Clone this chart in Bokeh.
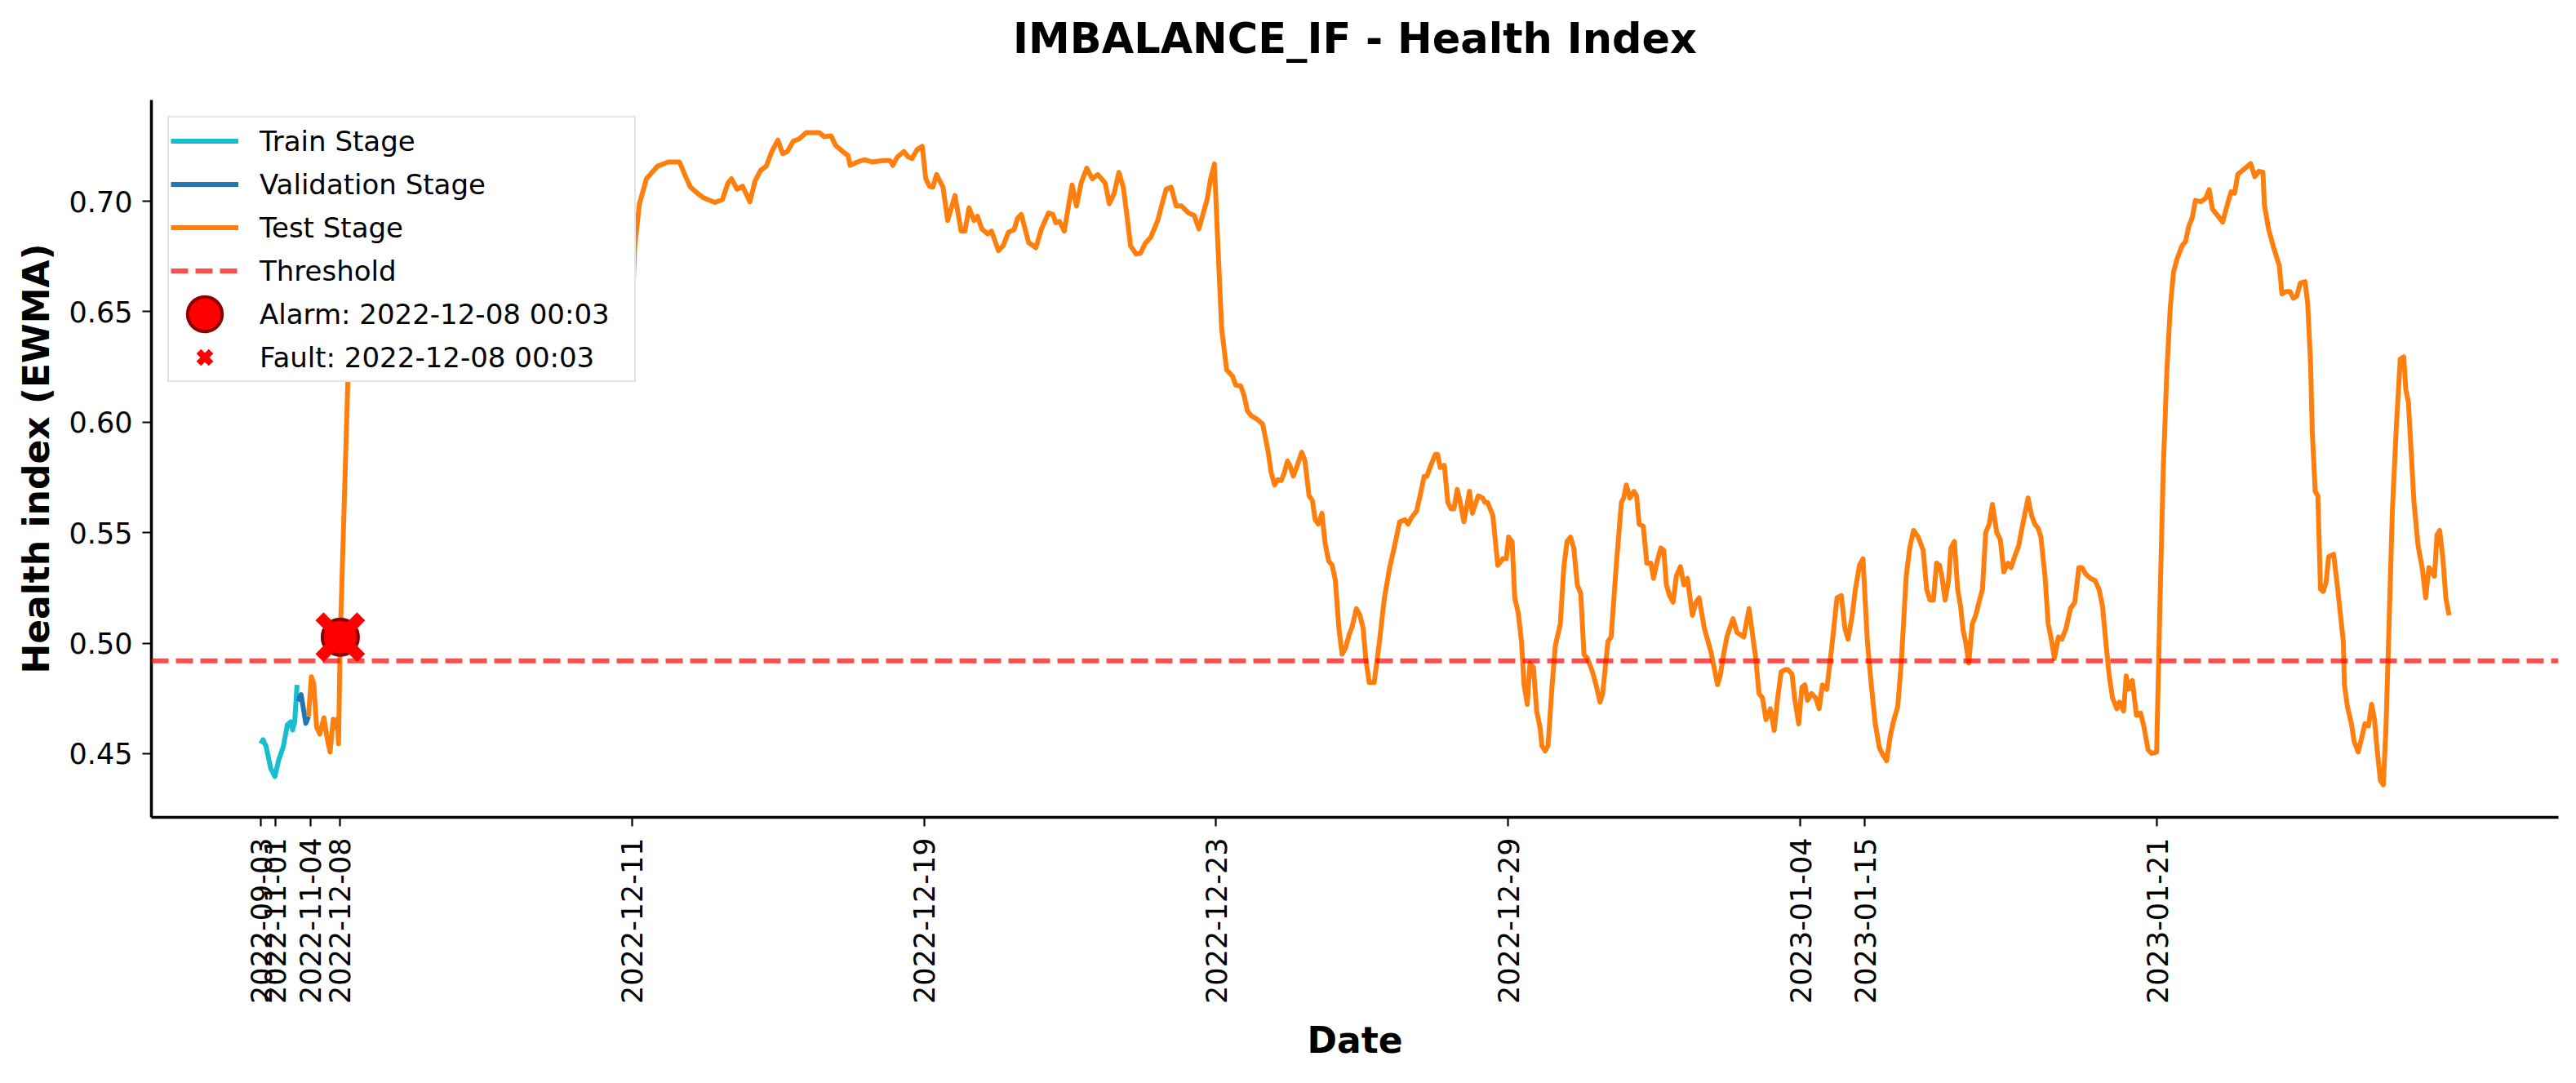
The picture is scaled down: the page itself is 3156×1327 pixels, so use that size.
import math
from bokeh.plotting import figure
from bokeh.models import Range1d, FixedTicker, Span, Legend, LegendItem, ColumnDataSource, Title
from bokeh.embed import file_html
from bokeh.resources import INLINE

# ---------------- data ----------------
title_text = "IMBALANCE_IF - Health Index"
threshold = 0.492
alarm_x = [27.2]
alarm_y = [0.5027]
alarm_label = "Alarm: 2022-12-08 00:03"
fault_label = "Fault: 2022-12-08 00:03"

tick_positions = [0, 5, 17, 27, 127, 227, 327, 427, 527, 549, 649]
tick_labels = ["2022-09-03", "2022-11-01", "2022-11-04", "2022-12-08", "2022-12-11",
               "2022-12-19", "2022-12-23", "2022-12-29", "2023-01-04", "2023-01-15",
               "2023-01-21"]
y_ticks = [0.45, 0.50, 0.55, 0.60, 0.65, 0.70]

train_x = [0, 0.75, 1.8, 3.4, 4.8, 6.1, 7.7, 9.1, 10.2, 10.9, 11.6, 12.4]
train_y = [0.4545, 0.4563, 0.4532, 0.4433, 0.4396, 0.4470, 0.4532, 0.4631, 0.4644, 0.4607, 0.4644, 0.4811]

val_x = [12.7, 13.8, 14.7, 15.4, 16.3]
val_y = [0.4737, 0.4767, 0.4693, 0.4637, 0.4668]

test_x = [
    16.3, 17.3, 18.1, 19.1, 20.2, 21.6, 22.7, 23.7, 24.8, 25.6,
    26.2, 26.6, 27.2, 29.8, 30.6, 126.6, 127.0, 128.0, 129.6, 132.0, 135.8,
    139.5, 143.3, 145.1, 147.0, 149.5, 151.4, 153.0, 155.5, 158.0, 159.9,
    161.1, 163.0, 164.9, 167.4, 169.2, 171.1, 173.0, 174.9, 177.0, 178.6,
    180.2, 182.3, 184.2, 186.7, 191.1, 192.9, 195.2, 196.7, 199.2, 201.0,
    201.7, 204.2, 206.6, 209.2, 212.9, 215.4, 216.3, 217.9, 220.1, 221.6,
    222.9, 224.7, 226.4, 227.6, 228.9, 230.0, 231.3, 233.5, 235.1, 237.6,
    239.7, 241.0, 242.4, 244.1, 245.3, 246.8, 248.8, 250.1, 252.5, 254.1,
    255.9, 257.8, 259.0, 260.3, 262.8, 265.3, 267.1, 269.6, 271.1, 272.1,
    273.4, 275.0, 277.7, 279.2, 280.8, 282.7, 284.6, 286.5, 289.0, 290.4,
    292.1, 293.7, 295.2, 296.5, 297.7, 299.6, 301.1, 302.7, 304.6, 307.0,
    308.3, 309.9, 311.6, 313.3, 315.1, 317.6, 319.5, 321.1, 322.6, 323.9,
    325.1, 326.4, 327.6, 328.9, 330.6, 332.6, 333.7, 335.4, 336.6, 337.7,
    338.9, 341.2, 342.9, 344.7, 345.8, 347.0, 348.1, 349.3, 350.4, 351.4,
    352.2, 353.4, 354.5, 356.3, 357.4, 358.8, 359.9, 360.9, 362.0, 363.2,
    364.3, 365.5, 366.7, 367.8, 369.0, 370.1, 371.3, 372.5, 373.6, 375.0,
    376.2, 377.3, 378.2, 379.4, 381.1, 382.9, 384.6, 386.4, 388.1, 389.8,
    391.6, 392.7, 393.9, 395.6, 396.8, 398.2, 399.1, 400.5, 402.0, 402.8,
    403.7, 405.1, 406.3, 407.4, 408.4, 409.5, 410.4, 411.8, 413.7, 414.7,
    416.7, 418.2, 419.0, 419.9, 421.7, 423.4, 425.1, 426.3, 427.1, 428.3,
    429.2, 430.4, 431.5, 432.4, 433.5, 434.4, 435.6, 436.7, 437.9, 438.5,
    439.6, 440.6, 442.0, 443.1, 444.8, 446.0, 447.1, 448.3, 449.4, 450.6,
    451.8, 452.9, 454.1, 455.8, 457.0, 458.4, 459.3, 461.1, 462.2, 463.9,
    465.7, 466.5, 467.4, 468.6, 470.0, 470.9, 471.8, 473.2, 474.4, 475.8,
    476.7, 477.8, 479.2, 480.2, 481.1, 482.2, 483.4, 484.5, 485.9, 487.1,
    488.3, 490.0, 491.2, 492.3, 494.1, 496.4, 498.6, 499.5, 500.7, 501.8,
    503.9, 505.3, 507.6, 509.4, 510.5, 511.7, 512.8, 514.0, 515.2, 516.7,
    518.0, 519.2, 520.4, 521.8, 522.7, 524.1, 525.0, 526.4, 527.5, 528.5,
    529.4, 530.8, 532.2, 533.4, 534.5, 536.0, 537.7, 539.5, 541.0, 542.2,
    543.3, 544.7, 545.8, 547.2, 548.4, 549.9, 551.1, 552.6, 554.0, 555.1,
    556.5, 557.7, 558.8, 560.3, 561.5, 563.2, 564.4, 565.7, 567.3, 569.0,
    570.2, 571.3, 572.5, 573.6, 574.6, 575.4, 576.5, 577.7, 578.5, 579.7,
    580.8, 581.8, 582.7, 583.5, 584.6, 585.8, 587.0, 588.1, 589.3, 590.4,
    591.6, 592.7, 594.2, 595.4, 596.6, 598.0, 599.1, 600.3, 601.7, 602.8,
    603.7, 604.9, 606.1, 607.2, 608.4, 609.3, 610.7, 611.8, 613.0, 613.9,
    615.3, 616.5, 617.9, 619.4, 620.9, 622.3, 623.4, 624.6, 626.3, 627.8,
    629.2, 630.4, 631.5, 632.7, 633.8, 635.3, 636.2, 637.6, 638.5, 639.4,
    640.6, 642.0, 643.4, 644.5, 646.0, 647.2, 648.9, 650.1, 651.2, 652.4,
    653.6, 654.7, 655.9, 657.6, 658.8, 659.9, 661.1, 662.2, 664.0, 665.7,
    666.9, 668.0, 669.8, 671.5, 673.3, 674.4, 675.6, 676.7, 678.5, 679.7,
    681.1, 682.5, 683.9, 685.3, 685.8, 687.2, 689.0, 690.9, 691.8, 693.2,
    694.6, 695.7, 696.9, 698.1, 699.7, 700.6, 701.6, 702.2, 703.2, 704.1,
    705.0, 705.9, 706.9, 707.8, 709.5, 710.9, 712.8, 713.2, 714.2, 715.6,
    716.5, 717.9, 719.0, 720.2, 721.4, 722.5, 723.5, 724.4, 725.5, 726.5,
    727.4, 728.3, 729.6, 731.0, 732.3, 733.5, 734.2, 735.1, 736.0, 737.0,
    738.4, 739.8, 741.0, 742.1, 744.0, 744.9, 745.8, 746.9, 747.9, 749.0,
]
test_y = [
    0.4668, 0.4848, 0.4817, 0.4619, 0.4588, 0.4662, 0.4569, 0.4507, 0.4656, 0.4619,
    0.4656, 0.4545, 0.5027, 0.6190, 0.6350, 0.6350, 0.6477, 0.6799, 0.6989, 0.7102, 0.7159,
    0.7178, 0.7178, 0.7121, 0.7065, 0.7036, 0.7017, 0.7008, 0.6995, 0.7008, 0.7083,
    0.7102, 0.7055, 0.7068, 0.6998, 0.7093, 0.7140, 0.7159, 0.7225, 0.7277, 0.7216,
    0.7225, 0.7273, 0.7282, 0.7311, 0.7311, 0.7292, 0.7296, 0.7254, 0.7225, 0.7207,
    0.7163, 0.7178, 0.7188, 0.7178, 0.7184, 0.7184, 0.7163, 0.7201, 0.7225, 0.7201,
    0.7194, 0.7235, 0.7249, 0.7102, 0.7068, 0.7064, 0.7121, 0.7064, 0.6913, 0.7026,
    0.6865, 0.6865, 0.6970, 0.6913, 0.6932, 0.6875, 0.6852, 0.6865, 0.6776, 0.6799,
    0.6860, 0.6871, 0.6922, 0.6941, 0.6814, 0.6790, 0.6871, 0.6947, 0.6941, 0.6903,
    0.6909, 0.6865, 0.7074, 0.6979, 0.7083, 0.7150, 0.7102, 0.7121, 0.7083, 0.6989,
    0.7036, 0.7131, 0.7064, 0.6932, 0.6799, 0.6761, 0.6765, 0.6809, 0.6837, 0.6913,
    0.6979, 0.7055, 0.7064, 0.6979, 0.6979, 0.6947, 0.6936, 0.6875, 0.6947, 0.7008,
    0.7102, 0.7169, 0.6799, 0.6420, 0.6237, 0.6208, 0.6168, 0.6164, 0.6119, 0.6051,
    0.6031, 0.6011, 0.5992, 0.5874, 0.5775, 0.5716, 0.5740, 0.5736, 0.5775, 0.5824,
    0.5805, 0.5756, 0.5795, 0.5864, 0.5824, 0.5667, 0.5647, 0.5559, 0.5539, 0.5588,
    0.5451, 0.5372, 0.5353, 0.5284, 0.5068, 0.4950, 0.4979, 0.5038, 0.5077, 0.5156,
    0.5126, 0.5068, 0.4930, 0.4822, 0.4822, 0.5009, 0.5205, 0.5343, 0.5441, 0.5549,
    0.5559, 0.5539, 0.5569, 0.5598, 0.5667, 0.5755, 0.5755, 0.5805, 0.5854, 0.5854,
    0.5795, 0.5805, 0.5637, 0.5608, 0.5608, 0.5696, 0.5647, 0.5549, 0.5687, 0.5588,
    0.5667, 0.5657, 0.5637, 0.5637, 0.5578, 0.5352, 0.5382, 0.5382, 0.5480, 0.5460,
    0.5205, 0.5136, 0.5009, 0.4811, 0.4723, 0.4910, 0.4890, 0.4693, 0.4615, 0.4536,
    0.4512, 0.4536, 0.4811, 0.4989, 0.5087, 0.5343, 0.5461, 0.5480, 0.5431, 0.5264,
    0.5224, 0.4949, 0.4930, 0.4871, 0.4812, 0.4733, 0.4772, 0.5008, 0.5028, 0.5343,
    0.5637, 0.5657, 0.5716, 0.5657, 0.5687, 0.5667, 0.5539, 0.5529, 0.5362, 0.5362,
    0.5293, 0.5362, 0.5431, 0.5421, 0.5264, 0.5215, 0.5185, 0.5303, 0.5346, 0.5264,
    0.5293, 0.5126, 0.5185, 0.5205, 0.5067, 0.4959, 0.4812, 0.4851, 0.4949, 0.5028,
    0.5111, 0.5048, 0.5028, 0.5156, 0.5048, 0.4930, 0.4772, 0.4752, 0.4654, 0.4703,
    0.4605, 0.4752, 0.4870, 0.4880, 0.4880, 0.4860, 0.4752, 0.4634, 0.4801, 0.4811,
    0.4742, 0.4772, 0.4752, 0.4703, 0.4811, 0.4791, 0.4979, 0.5205, 0.5215, 0.5067,
    0.5018, 0.5126, 0.5244, 0.5352, 0.5382, 0.5008, 0.4831, 0.4635, 0.4527, 0.4497,
    0.4468, 0.4576, 0.4644, 0.4713, 0.4910, 0.5303, 0.5431, 0.5510, 0.5480, 0.5421,
    0.5244, 0.5195, 0.5195, 0.5362, 0.5352, 0.5303, 0.5195, 0.5284, 0.5431, 0.5460,
    0.5244, 0.5166, 0.5057, 0.5008, 0.4910, 0.5087, 0.5126, 0.5185, 0.5244, 0.5500,
    0.5539, 0.5628, 0.5500, 0.5470, 0.5323, 0.5362, 0.5342, 0.5392, 0.5441, 0.5519,
    0.5578, 0.5657, 0.5578, 0.5539, 0.5519, 0.5480, 0.5303, 0.5087, 0.5008, 0.4930,
    0.5028, 0.5018, 0.5067, 0.5156, 0.5185, 0.5342, 0.5342, 0.5313, 0.5293, 0.5284,
    0.5244, 0.5166, 0.5008, 0.4851, 0.4752, 0.4703, 0.4733, 0.4693, 0.4851, 0.4792,
    0.4831, 0.4674, 0.4684, 0.4625, 0.4517, 0.4501, 0.4507, 0.5205, 0.5795, 0.6227,
    0.6523, 0.6680, 0.6739, 0.6798, 0.6818, 0.6886, 0.6926, 0.7004, 0.6998, 0.7014,
    0.7053, 0.6965, 0.6935, 0.6906, 0.6994, 0.7043, 0.7037, 0.7122, 0.7142, 0.7155,
    0.7171, 0.7112, 0.7136, 0.7132, 0.6984, 0.6876, 0.6788, 0.6709, 0.6581, 0.6591,
    0.6591, 0.6561, 0.6571, 0.6630, 0.6636, 0.6542, 0.6267, 0.5952, 0.5687, 0.5667,
    0.5244, 0.5234, 0.5274, 0.5392, 0.5402, 0.5244, 0.5008, 0.4811, 0.4713, 0.4635,
    0.4556, 0.4507, 0.4566, 0.4635, 0.4625, 0.4723, 0.4654, 0.4516, 0.4379, 0.4359,
    0.4615, 0.5008, 0.5598, 0.5991, 0.6286, 0.6296, 0.6148, 0.6089, 0.5873, 0.5637,
    0.5441, 0.5342, 0.5205, 0.5342, 0.5303, 0.5490, 0.5510, 0.5382, 0.5205, 0.5126,
]
assert len(test_x) == len(test_y)

# ---------------- styling ----------------
FONT = "DejaVu Sans"
C_TRAIN = "#17becf"
C_VAL = "#1f77b4"
C_TEST = "#ff7f0e"
LW = 6

# axis ranges with matplotlib-like 5% margins
all_x = train_x + val_x + test_x
all_y = train_y + val_y + test_y
xmin, xmax = min(all_x), max(all_x)
ymin, ymax = min(all_y), max(all_y)
dx = (xmax - xmin) * 0.05
dy = (ymax - ymin) * 0.05

p = figure(width=3156, height=1327,
           x_range=Range1d(xmin - dx, xmax + dx),
           y_range=Range1d(ymin - dy, ymax + dy),
           output_backend="svg", toolbar_location=None,
           min_border_left=185, min_border_right=22,
           min_border_top=122, min_border_bottom=326)
p.title = None

p.background_fill_color = "white"
p.border_fill_color = "white"
p.outline_line_color = None
p.xgrid.visible = False
p.ygrid.visible = False

# title: a blank spacer panel next to the frame, then the real title above it
spacer = Title(text=" ", text_font_size="2px", standoff=42)
p.add_layout(spacer, "above")
main_title = Title(text=title_text, align="center", text_font=FONT,
                   text_font_size="51px", text_font_style="bold",
                   text_color="black", standoff=0)
p.add_layout(main_title, "above")

# axes
for ax in (p.xaxis[0], p.yaxis[0]):
    ax.axis_line_color = "black"
    ax.axis_line_width = 3.5
    ax.major_tick_line_color = "black"
    ax.major_tick_line_width = 2.2
    ax.major_tick_out = 11
    ax.major_tick_in = 0
    ax.minor_tick_out = 0
    ax.minor_tick_in = 0
    ax.major_label_text_font = FONT
    ax.major_label_text_font_size = "35px"
    ax.major_label_text_color = "black"
    ax.axis_label_text_font = FONT
    ax.axis_label_text_font_size = "44px"
    ax.axis_label_text_font_style = "bold"
    ax.axis_label_text_color = "black"

p.xaxis.axis_label = "Date"
p.xaxis.ticker = FixedTicker(ticks=tick_positions)
p.xaxis.major_label_overrides = {t: lab for t, lab in zip(tick_positions, tick_labels)}
p.xaxis.major_label_orientation = math.pi / 2
p.xaxis.major_label_standoff = 14
p.xaxis.axis_label_standoff = 16

p.yaxis.axis_label = "Health index (EWMA)"
p.yaxis.ticker = FixedTicker(ticks=y_ticks)
p.yaxis.major_label_overrides = {t: f"{t:.2f}" for t in y_ticks}
p.yaxis.major_label_standoff = 12
p.yaxis.axis_label_standoff = 12

# data lines
r_train = p.line(train_x, train_y, line_color=C_TRAIN, line_width=LW, line_join="round")
r_val = p.line(val_x, val_y, line_color=C_VAL, line_width=LW, line_join="round")
r_test = p.line(test_x, test_y, line_color=C_TEST, line_width=LW, line_join="round")

# threshold
span = Span(location=threshold, dimension="width", line_color="red", line_alpha=0.7,
            line_width=LW, line_dash="21 9")
p.add_layout(span)

# alarm / fault markers
r_alarm = p.scatter(alarm_x, alarm_y, marker="circle", size=44, fill_color="red",
                    line_color="darkred", line_width=4)
r_fault = p.scatter(alarm_x, alarm_y, marker="x", size=72, line_color="red", line_width=14)

# legend-only renderers (NaN positions -> nothing drawn in plot area)
nan = float("nan")
legend_src = dict(x=[nan], y=[nan])
l_thr = p.line(x="x", y="y", source=ColumnDataSource(legend_src), line_color="red",
               line_alpha=0.7, line_width=LW, line_dash="21 9")
l_alarm = p.ellipse(x="x", y="y", source=ColumnDataSource(legend_src), width=44, height=44,
                    width_units="screen", height_units="screen",
                    fill_color="red", line_color="darkred", line_width=4)
l_fault = p.scatter(x="x", y="y", source=ColumnDataSource(legend_src), marker="x",
                    line_color="red", line_width=8)

legend_entries = [
    ("Train Stage", r_train),
    ("Validation Stage", r_val),
    ("Test Stage", r_test),
    ("Threshold", l_thr),
    (alarm_label, l_alarm),
    (fault_label, l_fault),
]


def style_legend(lg, margin):
    lg.location = "top_left"
    lg.margin = margin
    lg.padding = 2
    lg.spacing = 0
    lg.glyph_width = 83
    lg.glyph_height = 53
    lg.label_height = 53
    lg.label_width = 457
    lg.label_standoff = 26
    lg.label_text_font = FONT
    lg.label_text_font_size = "34px"


# drop shadow for the legend (drawn first, offset down/right, no text)
shadow = Legend(items=[LegendItem(label=" ", renderers=[r]) for _, r in legend_entries])
style_legend(shadow, 27)
shadow.border_line_color = None
shadow.background_fill_color = "#999999"
shadow.background_fill_alpha = 1.0
shadow.label_text_alpha = 0.0
p.add_layout(shadow)

legend = Legend(items=[LegendItem(label=lab, renderers=[r]) for lab, r in legend_entries])
style_legend(legend, 20)
legend.label_text_color = "black"
legend.border_line_color = "#cccccc"
legend.border_line_width = 2.5
legend.background_fill_color = "white"
legend.background_fill_alpha = 1.0
p.add_layout(legend)

open("out.html", "w").write(file_html(p, INLINE))
